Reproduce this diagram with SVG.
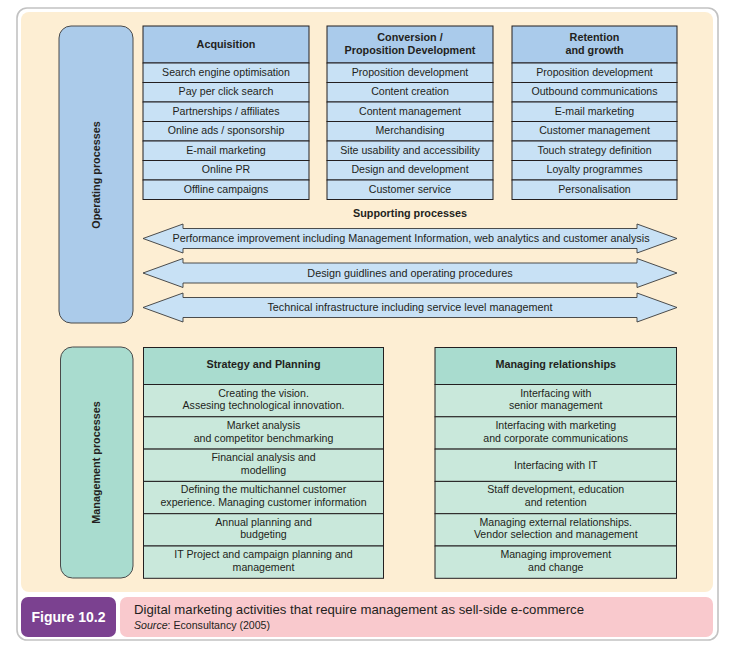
<svg xmlns="http://www.w3.org/2000/svg" width="730" height="648" viewBox="0 0 730 648">
<style>
  text { font-family: "Liberation Sans", Arial, Helvetica, sans-serif; fill: #231f20; }
  .row { font-size: 10.6px; text-anchor: middle; }
  .hdr { font-size: 10.8px; font-weight: bold; text-anchor: middle; }
  .side { font-size: 10.8px; font-weight: bold; text-anchor: middle; }
  .bcell { fill: #c8e1f5; stroke: #231f20; stroke-width: 1; }
  .bhead { fill: #aacbeb; stroke: #231f20; stroke-width: 1; }
  .gcell { fill: #c9e8db; stroke: #231f20; stroke-width: 1; }
  .ghead { fill: #a9dccf; stroke: #231f20; stroke-width: 1; }
  .arrow { fill: #c8e1f5; stroke: #3a3a3a; stroke-width: 0.9; }
  .arrtxt { font-size: 10.8px; text-anchor: middle; }
</style>

<!-- frame -->
<rect x="17" y="8" width="701" height="632" rx="10" fill="#ffffff" stroke="#c2c2c2" stroke-width="1.6"/>
<rect x="21" y="12" width="692" height="580" rx="8" fill="#fdeed3"/>

<!-- Operating processes -->
<g id="operating-processes">
  <rect x="59" y="26" width="74" height="297" rx="12" fill="#abcbea" stroke="#4a4a4a" stroke-width="1"/>
  <text class="side" transform="translate(99.5,175) rotate(-90)">Operating processes</text>
</g>

<g id="acquisition">
  <rect class="bhead" x="143" y="26" width="166" height="37"/>
  <text class="hdr" x="226" y="47.5">Acquisition</text>
  <rect class="bcell" x="143" y="63" width="166" height="19.5"/>
  <text class="row" x="226" y="75.8">Search engine optimisation</text>
  <rect class="bcell" x="143" y="82.5" width="166" height="19.5"/>
  <text class="row" x="226" y="95.3">Pay per click search</text>
  <rect class="bcell" x="143" y="102" width="166" height="19.5"/>
  <text class="row" x="226" y="114.8">Partnerships / affiliates</text>
  <rect class="bcell" x="143" y="121.5" width="166" height="19.5"/>
  <text class="row" x="226" y="134.3">Online ads / sponsorship</text>
  <rect class="bcell" x="143" y="141" width="166" height="19.5"/>
  <text class="row" x="226" y="153.8">E-mail marketing</text>
  <rect class="bcell" x="143" y="160.5" width="166" height="19.5"/>
  <text class="row" x="226" y="173.3">Online PR</text>
  <rect class="bcell" x="143" y="180" width="166" height="19.5"/>
  <text class="row" x="226" y="192.8">Offline campaigns</text>
</g>

<g id="conversion">
  <rect class="bhead" x="327" y="26" width="166" height="37"/>
  <text class="hdr" x="410" y="40.5">Conversion /</text>
  <text class="hdr" x="410" y="54">Proposition Development</text>
  <rect class="bcell" x="327" y="63" width="166" height="19.5"/>
  <text class="row" x="410" y="75.8">Proposition development</text>
  <rect class="bcell" x="327" y="82.5" width="166" height="19.5"/>
  <text class="row" x="410" y="95.3">Content creation</text>
  <rect class="bcell" x="327" y="102" width="166" height="19.5"/>
  <text class="row" x="410" y="114.8">Content management</text>
  <rect class="bcell" x="327" y="121.5" width="166" height="19.5"/>
  <text class="row" x="410" y="134.3">Merchandising</text>
  <rect class="bcell" x="327" y="141" width="166" height="19.5"/>
  <text class="row" x="410" y="153.8">Site usability and accessibility</text>
  <rect class="bcell" x="327" y="160.5" width="166" height="19.5"/>
  <text class="row" x="410" y="173.3">Design and development</text>
  <rect class="bcell" x="327" y="180" width="166" height="19.5"/>
  <text class="row" x="410" y="192.8">Customer service</text>
</g>

<g id="retention">
  <rect class="bhead" x="512" y="26" width="165" height="37"/>
  <text class="hdr" x="594.5" y="40.5">Retention</text>
  <text class="hdr" x="594.5" y="54">and growth</text>
  <rect class="bcell" x="512" y="63" width="165" height="19.5"/>
  <text class="row" x="594.5" y="75.8">Proposition development</text>
  <rect class="bcell" x="512" y="82.5" width="165" height="19.5"/>
  <text class="row" x="594.5" y="95.3">Outbound communications</text>
  <rect class="bcell" x="512" y="102" width="165" height="19.5"/>
  <text class="row" x="594.5" y="114.8">E-mail marketing</text>
  <rect class="bcell" x="512" y="121.5" width="165" height="19.5"/>
  <text class="row" x="594.5" y="134.3">Customer management</text>
  <rect class="bcell" x="512" y="141" width="165" height="19.5"/>
  <text class="row" x="594.5" y="153.8">Touch strategy definition</text>
  <rect class="bcell" x="512" y="160.5" width="165" height="19.5"/>
  <text class="row" x="594.5" y="173.3">Loyalty programmes</text>
  <rect class="bcell" x="512" y="180" width="165" height="19.5"/>
  <text class="row" x="594.5" y="192.8">Personalisation</text>
</g>

<!-- Supporting processes -->
<g id="supporting-processes">
  <text class="hdr" x="410" y="217">Supporting processes</text>
</g>
<g id="connectors">
  <g id="arrow-performance">
    <path class="arrow" d="M143,238.5 L183,224 L183,228.5 L637,228.5 L637,224 L677,238.5 L637,253 L637,248.5 L183,248.5 L183,253 Z"/>
    <text class="arrtxt" x="411" y="242.3">Performance improvement including Management Information, web analytics and customer analysis</text>
  </g>
  <g id="arrow-design">
    <path class="arrow" d="M143,273 L183,258.5 L183,263 L637,263 L637,258.5 L677,273 L637,287.5 L637,283 L183,283 L183,287.5 Z"/>
    <text class="arrtxt" x="410" y="276.8">Design guidlines and operating procedures</text>
  </g>
  <g id="arrow-technical">
    <path class="arrow" d="M143,307.5 L183,293 L183,297.5 L637,297.5 L637,293 L677,307.5 L637,322 L637,317.5 L183,317.5 L183,322 Z"/>
    <text class="arrtxt" x="410" y="311.3">Technical infrastructure including service level management</text>
  </g>
</g>

<!-- Management processes -->
<g id="management-processes">
  <rect x="60.5" y="347" width="72.5" height="231" rx="12" fill="#a9dccf" stroke="#4a4a4a" stroke-width="1"/>
  <text class="side" transform="translate(100,462.5) rotate(-90)">Management processes</text>
</g>

<g id="strategy-planning">
  <rect class="ghead" x="143.5" y="347.5" width="240" height="37"/>
  <text class="hdr" x="263.5" y="368">Strategy and Planning</text>
  <rect class="gcell" x="143.5" y="384.5" width="240" height="32.3"/>
  <text class="row" x="263.5" y="396.5">Creating the vision.</text>
  <text class="row" x="263.5" y="409.2">Assesing technological innovation.</text>
  <rect class="gcell" x="143.5" y="416.8" width="240" height="32.3"/>
  <text class="row" x="263.5" y="428.8">Market analysis</text>
  <text class="row" x="263.5" y="441.5">and competitor benchmarking</text>
  <rect class="gcell" x="143.5" y="449.1" width="240" height="32.3"/>
  <text class="row" x="263.5" y="461.1">Financial analysis and</text>
  <text class="row" x="263.5" y="473.8">modelling</text>
  <rect class="gcell" x="143.5" y="481.4" width="240" height="32.3"/>
  <text class="row" x="263.5" y="493.4">Defining the multichannel customer</text>
  <text class="row" x="263.5" y="506.1">experience. Managing customer information</text>
  <rect class="gcell" x="143.5" y="513.7" width="240" height="32.3"/>
  <text class="row" x="263.5" y="525.7">Annual planning and</text>
  <text class="row" x="263.5" y="538.4">budgeting</text>
  <rect class="gcell" x="143.5" y="546" width="240" height="32.3"/>
  <text class="row" x="263.5" y="558">IT Project and campaign planning and</text>
  <text class="row" x="263.5" y="570.7">management</text>
</g>

<g id="managing-relationships">
  <rect class="ghead" x="435" y="347.5" width="241.5" height="37"/>
  <text class="hdr" x="555.75" y="368">Managing relationships</text>
  <rect class="gcell" x="435" y="384.5" width="241.5" height="32.3"/>
  <text class="row" x="555.75" y="396.5">Interfacing with</text>
  <text class="row" x="555.75" y="409.2">senior management</text>
  <rect class="gcell" x="435" y="416.8" width="241.5" height="32.3"/>
  <text class="row" x="555.75" y="428.8">Interfacing with marketing</text>
  <text class="row" x="555.75" y="441.5">and corporate communications</text>
  <rect class="gcell" x="435" y="449.1" width="241.5" height="32.3"/>
  <text class="row" x="555.75" y="468.9">Interfacing with IT</text>
  <rect class="gcell" x="435" y="481.4" width="241.5" height="32.3"/>
  <text class="row" x="555.75" y="493.4">Staff development, education</text>
  <text class="row" x="555.75" y="506.1">and retention</text>
  <rect class="gcell" x="435" y="513.7" width="241.5" height="32.3"/>
  <text class="row" x="555.75" y="525.7">Managing external relationships.</text>
  <text class="row" x="555.75" y="538.4">Vendor selection and management</text>
  <rect class="gcell" x="435" y="546" width="241.5" height="32.3"/>
  <text class="row" x="555.75" y="558">Managing improvement</text>
  <text class="row" x="555.75" y="570.7">and change</text>
</g>

<!-- Caption -->
<g id="caption">
  <rect x="21" y="597" width="95" height="40" rx="7" fill="#7b4190"/>
  <text x="68.5" y="622" font-size="14px" font-weight="bold" text-anchor="middle" style="fill:#ffffff">Figure 10.2</text>
  <rect x="120" y="597" width="593" height="40" rx="7" fill="#f9c9cd"/>
  <text x="134" y="613.5" font-size="13.2px">Digital marketing activities that require management as sell-side e-commerce</text>
  <text x="134" y="628.5" font-size="10.6px"><tspan font-style="italic">Source</tspan>: Econsultancy (2005)</text>
</g>
</svg>
